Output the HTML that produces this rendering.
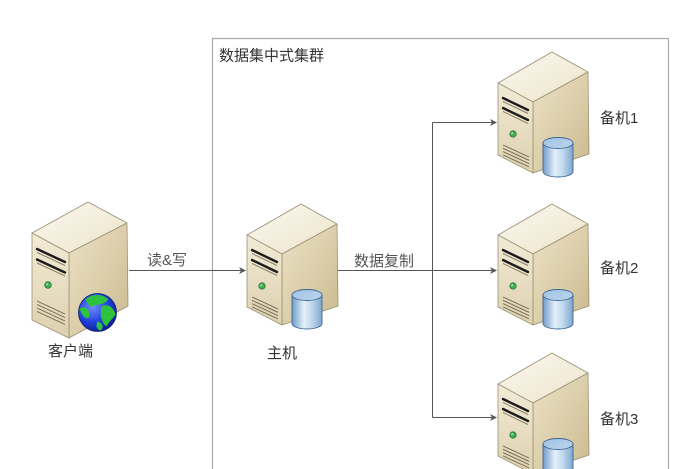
<!DOCTYPE html>
<html>
<head>
<meta charset="utf-8">
<style>
  html,body{margin:0;padding:0;background:#fff;}
  body{width:691px;height:469px;overflow:hidden;}
  svg{display:block;overflow:hidden;}
  text{font-family:"Liberation Sans","Noto Sans CJK SC",sans-serif;}
</style>
</head>
<body>
<svg width="691" height="469" viewBox="0 0 691 469" xmlns="http://www.w3.org/2000/svg">
  <defs>
    <clipPath id="frame"><rect x="0" y="0" width="691" height="469"/></clipPath>
    <linearGradient id="gTop" x1="0" y1="0" x2="1" y2="1">
      <stop offset="0" stop-color="#fbf8ee"/>
      <stop offset="1" stop-color="#ece4cc"/>
    </linearGradient>
    <linearGradient id="gFront" x1="0" y1="0" x2="0" y2="1">
      <stop offset="0" stop-color="#f2ebd6"/>
      <stop offset="1" stop-color="#ddd0ae"/>
    </linearGradient>
    <linearGradient id="gSide" x1="0" y1="0" x2="1" y2="1">
      <stop offset="0" stop-color="#ebe1c5"/>
      <stop offset="0.5" stop-color="#dccfab"/>
      <stop offset="1" stop-color="#cbb98f"/>
    </linearGradient>
    <linearGradient id="gCyl" x1="0" y1="0" x2="1" y2="0">
      <stop offset="0" stop-color="#6f9cc8"/>
      <stop offset="0.4" stop-color="#e4f0fa"/>
      <stop offset="0.65" stop-color="#c2d9ee"/>
      <stop offset="1" stop-color="#7ea7cf"/>
    </linearGradient>
    <linearGradient id="gCylTop" x1="0" y1="0" x2="1" y2="1">
      <stop offset="0" stop-color="#9fc2e4"/>
      <stop offset="1" stop-color="#bcd6ee"/>
    </linearGradient>
    <radialGradient id="gGlobe" cx="0.38" cy="0.35" r="0.7">
      <stop offset="0" stop-color="#6f8dff"/>
      <stop offset="0.6" stop-color="#1f3fdc"/>
      <stop offset="1" stop-color="#0c1c8c"/>
    </radialGradient>

    <g id="srv">
      <polygon points="1,32 55,1 91,21 36,51" fill="url(#gTop)" stroke="#9b8f73" stroke-width="0.8" stroke-linejoin="round"/>
      <polygon points="36,51 91,21 92,103 36,122" fill="url(#gSide)" stroke="#9b8f73" stroke-width="0.8" stroke-linejoin="round"/>
      <polygon points="1,32 36,51 36,122 1,104" fill="url(#gFront)" stroke="#9b8f73" stroke-width="0.8" stroke-linejoin="round"/>
      <line x1="6" y1="47" x2="31" y2="59" stroke="#1c1c1c" stroke-width="2.4" stroke-linecap="round"/>
      <line x1="6" y1="50.5" x2="31" y2="62.5" stroke="#8a8270" stroke-width="1"/>
      <line x1="6" y1="57" x2="31" y2="69" stroke="#1c1c1c" stroke-width="2.4" stroke-linecap="round"/>
      <line x1="6" y1="60.5" x2="31" y2="72.5" stroke="#8a8270" stroke-width="1"/>
      <circle cx="16" cy="83" r="3.2" fill="#3fae55" stroke="#2b7a3a" stroke-width="0.8"/>
      <circle cx="15.2" cy="82.2" r="1" fill="#a8e6b0"/>
      <line x1="6" y1="94" x2="32" y2="106" stroke="#6b6352" stroke-width="0.9"/>
      <line x1="6" y1="97.3" x2="32" y2="109.3" stroke="#6b6352" stroke-width="0.9"/>
      <line x1="6" y1="100.6" x2="32" y2="112.6" stroke="#6b6352" stroke-width="0.9"/>
      <line x1="6" y1="103.9" x2="32" y2="115.9" stroke="#6b6352" stroke-width="0.9"/>
    </g>

    <g id="cyl">
      <path d="M46,92 L46,120.5 A15,5.5 0 0 0 76,120.5 L76,92 Z" fill="url(#gCyl)" stroke="#3d6690" stroke-width="0.9"/>
      <ellipse cx="61" cy="92" rx="15" ry="5.5" fill="url(#gCylTop)" stroke="#3d6690" stroke-width="0.9"/>
    </g>

    <g id="arr">
      <polygon points="0,0 -7,-3.5 -5,0 -7,3.5" fill="#555"/>
    </g>
  </defs>

  <g clip-path="url(#frame)">
  <path d="M212.5,469 V38.5 H668.5 V469" fill="none" stroke="#aaaaaa" stroke-width="1.2"/>
  <text x="219" y="60.5" font-size="15" fill="#333">数据集中式集群</text>

  <g stroke="#555" stroke-width="1" fill="none">
    <line x1="129" y1="270.5" x2="241" y2="270.5"/>
    <line x1="337" y1="270.5" x2="432.5" y2="270.5"/>
    <line x1="432.5" y1="122.5" x2="432.5" y2="417.5"/>
    <line x1="432.5" y1="122.5" x2="492" y2="122.5"/>
    <line x1="432.5" y1="270.5" x2="492" y2="270.5"/>
    <line x1="432.5" y1="417.5" x2="492" y2="417.5"/>
  </g>
  <use href="#arr" transform="translate(246,270.5)"/>
  <use href="#arr" transform="translate(497,122.5)"/>
  <use href="#arr" transform="translate(497,270.5)"/>
  <use href="#arr" transform="translate(497,417.5)"/>

  <text x="147" y="265" font-size="15" fill="#555">读&amp;写</text>
  <text x="354" y="266" font-size="15" fill="#555">数据复制</text>

  <g>
    <polygon points="32,233 88,202 127,223 69,253" fill="url(#gTop)" stroke="#9b8f73" stroke-width="0.8" stroke-linejoin="round"/>
    <polygon points="69,253 127,223 128,306 69,338" fill="url(#gSide)" stroke="#9b8f73" stroke-width="0.8" stroke-linejoin="round"/>
    <polygon points="32,233 69,253 69,338 32,320" fill="url(#gFront)" stroke="#9b8f73" stroke-width="0.8" stroke-linejoin="round"/>
    <line x1="37" y1="249" x2="65" y2="262" stroke="#1c1c1c" stroke-width="2.4" stroke-linecap="round"/>
    <line x1="37" y1="252.5" x2="65" y2="265.5" stroke="#8a8270" stroke-width="1"/>
    <line x1="37" y1="259.5" x2="65" y2="272.5" stroke="#1c1c1c" stroke-width="2.4" stroke-linecap="round"/>
    <line x1="37" y1="263" x2="65" y2="276" stroke="#8a8270" stroke-width="1"/>
    <circle cx="48" cy="285" r="3.3" fill="#3fae55" stroke="#2b7a3a" stroke-width="0.8"/>
    <circle cx="47.2" cy="284.2" r="1" fill="#a8e6b0"/>
    <line x1="37" y1="301" x2="65" y2="314" stroke="#6b6352" stroke-width="0.9"/>
    <line x1="37" y1="304.5" x2="65" y2="317.5" stroke="#6b6352" stroke-width="0.9"/>
    <line x1="37" y1="308" x2="65" y2="321" stroke="#6b6352" stroke-width="0.9"/>
    <line x1="37" y1="311.5" x2="65" y2="324.5" stroke="#6b6352" stroke-width="0.9"/>
    <g transform="translate(97.5,312.5)">
      <circle r="19" fill="url(#gGlobe)" stroke="#0d1a70" stroke-width="0.8"/>
      <path d="M-12,-13 C-5,-19 5,-19 11,-13 C7,-9 2,-7 -2,-8 C-5,-4 -9,-6 -12,-13 Z" fill="#2fc23c"/>
      <path d="M4,-6 C11,-10 17,-4 18,2 C15,7 11,9 9,14 C4,10 2,3 4,-6 Z" fill="#2fc23c"/>
      <path d="M-18,-4 C-12,-8 -7,-2 -8,4 C-10,8 -15,5 -18,-4 Z" fill="#2fc23c"/>
      <path d="M0,9 C5,10 7,15 3,18 C-1,17 -2,13 0,9 Z" fill="#2fc23c"/>
    </g>
  </g>
  <text x="48" y="356" font-size="15" fill="#333">客户端</text>

  <g transform="translate(246,203)">
    <use href="#srv"/>
    <use href="#cyl"/>
  </g>
  <text x="267" y="358" font-size="15" fill="#333">主机</text>

  <g transform="translate(497,51)">
    <use href="#srv"/>
    <use href="#cyl"/>
  </g>
  <text x="600" y="123" font-size="15" fill="#333">备机1</text>

  <g transform="translate(497,203)">
    <use href="#srv"/>
    <use href="#cyl"/>
  </g>
  <text x="600" y="273" font-size="15" fill="#333">备机2</text>

  <g transform="translate(497,352)">
    <use href="#srv"/>
    <use href="#cyl"/>
  </g>
  <text x="600" y="424" font-size="15" fill="#333">备机3</text>
  </g>
</svg>
</body>
</html>
